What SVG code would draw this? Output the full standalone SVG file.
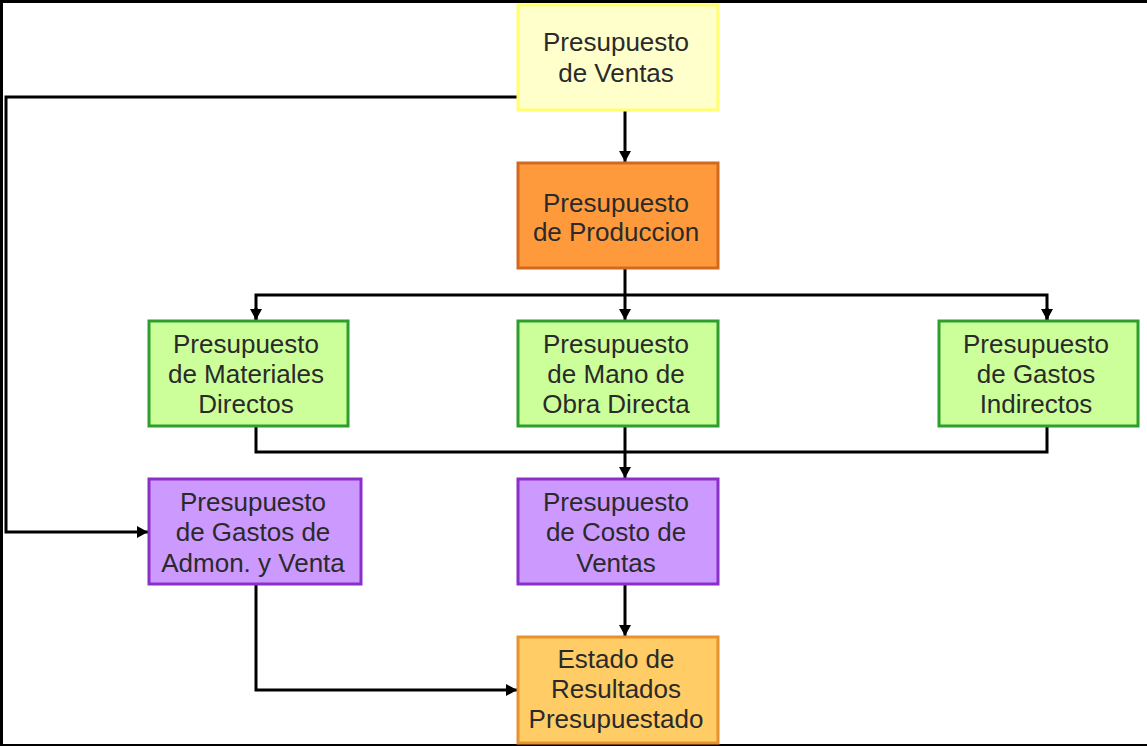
<svg xmlns="http://www.w3.org/2000/svg" width="1147" height="746" viewBox="0 0 1147 746">
<style>
.t{font-family:"Liberation Sans",Arial,sans-serif;font-size:26px;fill:#2a2a2a;text-anchor:middle}
.c{fill:none;stroke:#000;stroke-width:3}
.yel{fill:#FFFFCC;stroke:#FFFF70;stroke-width:3}
.org{fill:#FF9A3C;stroke:#D2691E;stroke-width:3}
.grn{fill:#CCFF99;stroke:#2E9E2E;stroke-width:3}
.pur{fill:#CC99FF;stroke:#8B2FC9;stroke-width:3}
.gld{fill:#FFCC66;stroke:#E8922E;stroke-width:3}
</style>
<defs>
<marker id="ah" markerWidth="11" markerHeight="12" refX="11" refY="6" orient="auto" markerUnits="userSpaceOnUse">
<path d="M0,0 L11,6 L0,12 Z" fill="#000"/>
</marker>
</defs>
<rect width="1147" height="746" fill="#fff"/>
<g id="frame">
<line x1="0" y1="1.5" x2="1147" y2="1.5" stroke="#000" stroke-width="3"/>
<line x1="1.5" y1="0" x2="1.5" y2="746" stroke="#000" stroke-width="3"/>
<line x1="0" y1="745" x2="1147" y2="745" stroke="#000" stroke-width="2"/>
</g>
<g id="connectors">
<path class="c" d="M625,110 V162" marker-end="url(#ah)"/>
<path class="c" d="M518,97 H6 V532 H148" marker-end="url(#ah)"/>
<path class="c" d="M625,268 V320" marker-end="url(#ah)"/>
<path class="c" d="M256,320 V295 H1047 V320"/>
<path class="c" d="M256,308 V320" marker-end="url(#ah)"/>
<path class="c" d="M1047,308 V320" marker-end="url(#ah)"/>
<path class="c" d="M256,426 V452 H1047 V426"/>
<path class="c" d="M625,426 V478" marker-end="url(#ah)"/>
<path class="c" d="M625,584 V636" marker-end="url(#ah)"/>
<path class="c" d="M256,584 V690 H517" marker-end="url(#ah)"/>
</g>
<g id="ventas">
<rect class="yel" x="518" y="5" width="200" height="105"/>
<text class="t" x="616" y="51">Presupuesto</text>
<text class="t" x="616" y="82">de Ventas</text>
</g>
<g id="produccion">
<rect class="org" x="518" y="163" width="200" height="105"/>
<text class="t" x="616" y="212">Presupuesto</text>
<text class="t" x="616" y="241">de Produccion</text>
</g>
<g id="materiales">
<rect class="grn" x="149" y="321" width="199" height="105"/>
<text class="t" x="246" y="353">Presupuesto</text>
<text class="t" x="246" y="383">de Materiales</text>
<text class="t" x="246" y="413">Directos</text>
</g>
<g id="manoobra">
<rect class="grn" x="518" y="321" width="200" height="105"/>
<text class="t" x="616" y="353">Presupuesto</text>
<text class="t" x="616" y="383">de Mano de</text>
<text class="t" x="616" y="413">Obra Directa</text>
</g>
<g id="indirectos">
<rect class="grn" x="939" y="321" width="199" height="105"/>
<text class="t" x="1036" y="353">Presupuesto</text>
<text class="t" x="1036" y="383">de Gastos</text>
<text class="t" x="1036" y="413">Indirectos</text>
</g>
<g id="admon">
<rect class="pur" x="149" y="479" width="212" height="105"/>
<text class="t" x="253" y="511">Presupuesto</text>
<text class="t" x="253" y="541">de Gastos de</text>
<text class="t" x="253" y="572">Admon. y Venta</text>
</g>
<g id="costo">
<rect class="pur" x="518" y="479" width="200" height="105"/>
<text class="t" x="616" y="511">Presupuesto</text>
<text class="t" x="616" y="541">de Costo de</text>
<text class="t" x="616" y="572">Ventas</text>
</g>
<g id="estado">
<rect class="gld" x="518" y="637" width="200" height="106"/>
<text class="t" x="616" y="668">Estado de</text>
<text class="t" x="616" y="698">Resultados</text>
<text class="t" x="616" y="728">Presupuestado</text>
</g>
</svg>
